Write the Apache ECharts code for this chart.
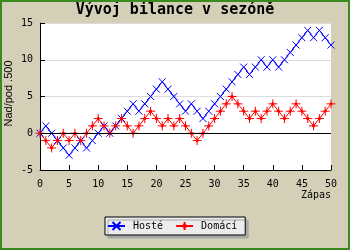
<!DOCTYPE html>
<html><head><meta charset="utf-8">
<script src="https://cdn.jsdelivr.net/npm/echarts@6/dist/echarts.min.js"></script>
<style>html,body{margin:0;padding:0;background:#d4d0b8}#c{width:350px;height:250px}</style>
</head><body><div id="c"></div><script>
const titleText = 'Vývoj bilance v sezóně';
const xName = 'Zápas';
const yName = 'Nad/pod .500';
const seriesNames = ['Hosté', 'Domácí'];
const hoste = [0,1,0,-1,-2,-3,-2,-1,-2,-1,0,1,0,1,2,3,4,3,
  4,5,6,7,6,5,4,3,4,3,2,3,4,5,6,7,8,
  9,8,9,10,9,10,9,10,11,12,13,14,13,14,13,12];
const domaci = [0,-1,-2,-1,0,-1,0,-1,0,1,2,1,0,1,2,1,0,1,
  2,3,2,1,2,1,2,1,0,-1,0,1,2,3,4,5,4,
  3,2,3,2,3,4,3,2,3,4,3,2,1,2,3,4];

const toPairs = arr => arr.map((v, i) => [i, v]);
const mono = 'DejaVu Sans Mono';
const chart = echarts.init(document.getElementById('c'), null, {renderer: 'canvas'});
chart.setOption({
  animation: false,
  backgroundColor: '#d4d0b8',
  title: {text: titleText, left: 'center', top: 3, padding: 0,
    textStyle: {fontFamily: mono, fontWeight: 'bold', fontSize: 15, color: '#000'}},
  grid: {show: true, backgroundColor: '#fff', borderWidth: 0, left: 40, right: 19, top: 23, bottom: 80,
    containLabel: false, outerBoundsMode: 'none'},
  xAxis: {type: 'value', min: 0, max: 50, interval: 5,
    axisLine: {onZero: false, lineStyle: {color: '#000', width: 1}},
    axisTick: {inside: true, length: 5, lineStyle: {color: '#000'}},
    axisLabel: {color: '#000', fontFamily: mono, fontSize: 10, margin: 9},
    splitLine: {show: false},
    name: xName, nameLocation: 'end', nameGap: 0,
    nameTextStyle: {color: '#000', fontFamily: mono, fontSize: 10, align: 'right', verticalAlign: 'top', padding: [20, 0, 0, 0]}},
  yAxis: {type: 'value', min: -5, max: 15, interval: 5,
    axisLine: {show: true, onZero: false, lineStyle: {color: '#000', width: 1}},
    axisTick: {show: true, inside: true, length: 5, lineStyle: {color: '#000'}},
    axisLabel: {color: '#000', fontFamily: mono, fontSize: 10, margin: 7},
    splitLine: {show: true, lineStyle: {color: '#dcdcdc'}},
    name: yName, nameLocation: 'middle', nameGap: 26, nameMoveOverlap: false,
    nameTextStyle: {color: '#000', fontFamily: 'Liberation Sans', fontSize: 11, padding: [0, 0, 0, 6]}},
  legend: {left: 105, top: 217, padding: [4, 8, 4, 2], itemWidth: 17, itemHeight: 10, itemGap: 12,
    backgroundColor: '#ececec', borderColor: '#000', borderWidth: 1,
    shadowColor: '#a8a8a8', shadowOffsetX: 3, shadowOffsetY: 3, shadowBlur: 0,
    textStyle: {fontFamily: mono, fontSize: 10, color: '#000', padding: [0, 0, 0, 3]},
    data: seriesNames},
  graphic: [{type: 'rect', shape: {x: 1, y: 1, width: 348, height: 248},
    style: {fill: null, stroke: '#3a8a1e', lineWidth: 2}, silent: true, z: 100}],
  series: [
    {name: seriesNames[0], type: 'line', data: toPairs(hoste), showAllSymbol: true,
      symbol: 'path://M0,0L10,10M10,0L0,10', symbolSize: 7,
      itemStyle: {color: '#0000ff', borderColor: '#0000ff', borderWidth: 1},
      lineStyle: {color: '#0000ff', width: 1},
      markLine: {silent: true, symbol: 'none', label: {show: false},
        lineStyle: {color: '#000', width: 1, type: 'solid'}, data: [{yAxis: 0}]}},
    {name: seriesNames[1], type: 'line', data: toPairs(domaci), showAllSymbol: true,
      symbol: 'path://M5,0L5,10M0,5L10,5M4,4L6,4L6,6L4,6Z', symbolSize: 9,
      itemStyle: {color: '#ff0000', borderColor: '#ff0000', borderWidth: 1},
      lineStyle: {color: '#ff0000', width: 1}}
  ]
});
</script></body></html>
